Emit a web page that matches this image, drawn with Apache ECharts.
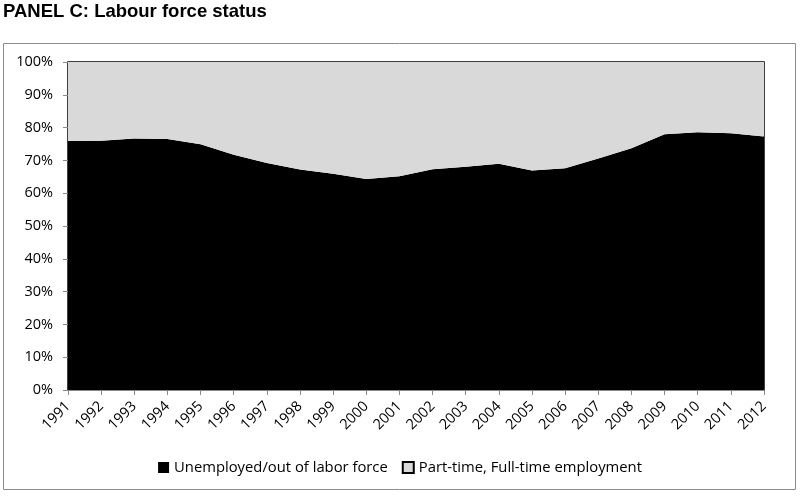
<!DOCTYPE html>
<html><head><meta charset="utf-8">
<script src="https://cdn.jsdelivr.net/npm/echarts@6/dist/echarts.min.js"></script>
<style>html,body{margin:0;padding:0;background:#fff}#c{width:800px;height:496px}</style>
</head><body><div id="c"></div>
<script>
const years = ['1991','1992','1993','1994','1995','1996','1997','1998','1999','2000','2001','2002','2003','2004','2005','2006','2007','2008','2009','2010','2011','2012'];
const unemployed = [75.9,76.0,76.7,76.5,74.9,71.7,69.2,67.2,65.9,64.3,65.2,67.3,68.1,69.0,66.9,67.6,70.6,73.7,78.0,78.6,78.3,77.3];
const employed = unemployed.map(v => +(100 - v).toFixed(1));
const yTicks = ['0%','10%','20%','30%','40%','50%','60%','70%','80%','90%','100%'];

const chart = echarts.init(document.getElementById('c'), null, {renderer:'canvas'});
const font = 'Open Sans';
chart.setOption({
  animation:false,
  title:{text:'PANEL C: Labour force status', left:3, top:2, padding:0,
    textStyle:{fontFamily:'Liberation Sans', fontWeight:'bold', fontSize:18.5, color:'#000'}},
  graphic:[{type:'rect', shape:{x:3.5,y:43.5,width:792,height:446}, style:{fill:'none', stroke:'#8c8c8c', lineWidth:1}, z:-1}],
  grid:{left:68, right:36, top:62, bottom:106, show:true, borderColor:'#000', borderWidth:1.5, backgroundColor:'transparent'},
  legend:{bottom:16, left:'center', itemWidth:11, itemHeight:11, itemGap:14,
    textStyle:{fontFamily:font, fontSize:14.8, color:'#000'},
    data:[{name:'Unemployed/out of labor force', icon:'rect', itemStyle:{color:'#000'}},
          {name:'Part-time, Full-time employment', icon:'rect', itemStyle:{color:'#d9d9d9', borderColor:'#000', borderWidth:2}}]},
  xAxis:{type:'category', data:years, boundaryGap:false,
    axisLine:{show:true, lineStyle:{color:'#888'}},
    axisTick:{show:true, length:5, lineStyle:{color:'#888'}},
    axisLabel:{rotate:45, fontFamily:font, fontSize:14.5, color:'#000', margin:14}},
  yAxis:{type:'value', min:0, max:100, interval:10,
    axisLine:{show:true, lineStyle:{color:'#888'}},
    axisTick:{show:true, length:5, lineStyle:{color:'#888'}},
    splitLine:{show:false},
    axisLabel:{fontFamily:font, fontSize:14.5, color:'#000', margin:15, formatter:v=>yTicks[Math.round(v/10)]}},
  series:[
    {name:'Unemployed/out of labor force', type:'line', stack:'a', data:unemployed, symbol:'none',
      lineStyle:{width:0}, areaStyle:{color:'#000', opacity:1}, itemStyle:{color:'#000'}},
    {name:'Part-time, Full-time employment', type:'line', stack:'a', data:employed, symbol:'none',
      lineStyle:{width:0}, areaStyle:{color:'#d9d9d9', opacity:1}, itemStyle:{color:'#d9d9d9'}}
  ]
});
</script></body></html>
